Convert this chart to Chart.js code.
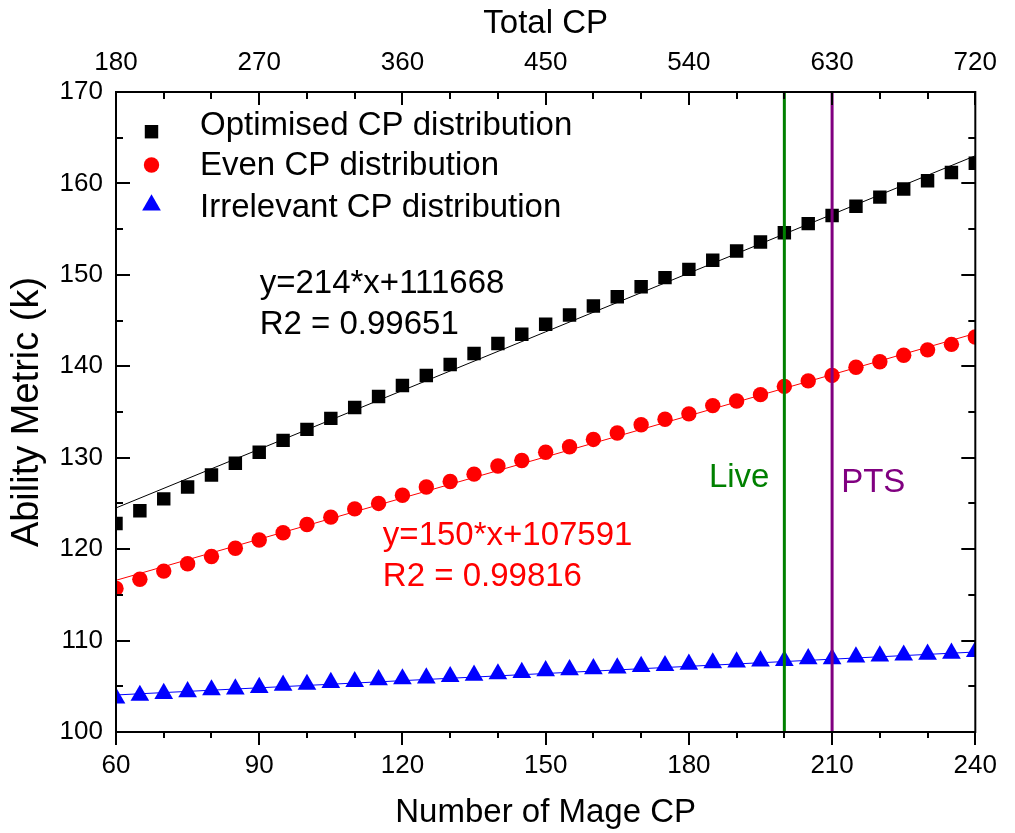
<!DOCTYPE html>
<html>
<head>
<meta charset="utf-8">
<script src="https://cdn.jsdelivr.net/npm/chart.js@4/dist/chart.umd.min.js"></script>
<style>
html,body{margin:0;padding:0;background:#fff;}
#wrap{width:1015px;height:833px;}
</style>
</head>
<body>
<div id="wrap"><canvas id="c" width="1015" height="833"></canvas></div>
<script>
// ---------- data ----------
const mageCP = [60,65,70,75,80,85,90,95,100,105,110,115,120,125,130,135,140,145,150,155,160,165,170,175,180,185,190,195,200,205,210,215,220,225,230,235,240];
const optimised = [122.8,124.2,125.5,126.8,128.1,129.4,130.6,131.9,133.1,134.3,135.5,136.7,137.9,139.0,140.2,141.4,142.5,143.5,144.6,145.6,146.6,147.6,148.7,149.7,150.6,151.6,152.6,153.6,154.6,155.6,156.5,157.5,158.5,159.4,160.3,161.2,162.2];
const even = [115.7,116.7,117.6,118.4,119.2,120.1,121.0,121.8,122.7,123.5,124.4,125.0,125.9,126.8,127.4,128.2,129.1,129.7,130.6,131.2,132.0,132.7,133.6,134.2,134.8,135.7,136.2,136.9,137.8,138.4,139.0,139.9,140.5,141.2,141.8,142.4,143.2];
const irrelevant = [103.7,104.0,104.2,104.4,104.6,104.7,104.85,105.1,105.2,105.4,105.5,105.7,105.8,105.9,106.05,106.2,106.35,106.5,106.7,106.8,106.9,107.0,107.15,107.25,107.4,107.55,107.65,107.75,107.8,108.0,108.0,108.2,108.3,108.4,108.5,108.6,108.8];
const fitX = [60, 240];
const optimisedFit = [124.508, 163.028];
const evenFit = [116.591, 143.591];
const irrelevantFit = [104.05, 108.75];
const liveCP = 200;
const ptsCP = 210;
const xTickLabels = [60,90,120,150,180,210,240];
const topTickLabels = [180,270,360,450,540,630,720];
const yTickLabels = [100,110,120,130,140,150,160,170];
const seriesNames = ['Optimised CP distribution','Even CP distribution','Irrelevant CP distribution'];

// ---------- helpers ----------
const FONT = "'Liberation Sans', Arial, sans-serif";
const pts = (xs, ys) => xs.map((v, i) => ({x: v, y: ys[i]}));
const vline = (v) => [{x: v, y: yTickLabels[0]}, {x: v, y: yTickLabels[yTickLabels.length - 1]}];
const setTicks = (arr) => (s) => { s.ticks = arr.map(v => ({value: v})); };

const markerSets = [
  {label: seriesNames[0], data: pts(mageCP, optimised), color: '#000000', style: 'rect', r: 9.5},
  {label: seriesNames[1], data: pts(mageCP, even), color: '#ff0000', style: 'circle', r: 7.7},
  {label: seriesNames[2], data: pts(mageCP, irrelevant), color: '#0000ff', style: 'triangle', r: 10.8}
];

const datasets = [
  {label: 'Live', data: vline(liveCP), showLine: true, borderColor: '#008000', borderWidth: 3, pointRadius: 0, order: 0, clip: 0},
  {label: 'PTS', data: vline(ptsCP), showLine: true, borderColor: '#800080', borderWidth: 3, pointRadius: 0, order: 0, clip: 0},
  {label: 'fit1', data: pts(fitX, optimisedFit), showLine: true, borderColor: '#000000', borderWidth: 1, pointRadius: 0, order: 1, clip: 0},
  {label: 'fit2', data: pts(fitX, evenFit), showLine: true, borderColor: '#ff0000', borderWidth: 1, pointRadius: 0, order: 1, clip: 0},
  {label: 'fit3', data: pts(fitX, irrelevantFit), showLine: true, borderColor: '#0000ff', borderWidth: 1, pointRadius: 0, order: 1, clip: 0}
];
markerSets.forEach(m => datasets.push({
  label: m.label, data: m.data, showLine: false,
  pointStyle: m.style, pointRadius: m.r, pointBackgroundColor: m.color,
  pointBorderWidth: 0, backgroundColor: m.color, borderColor: m.color, order: 2, clip: 0
}));

// text annotations, anchored in data coordinates (left / baseline)
const notes = [
  {text: 'y=214*x+111668', x: 90.1, y: 148.0, color: '#000000'},
  {text: 'R2 = 0.99651', x: 90.1, y: 143.5, color: '#000000'},
  {text: 'y=150*x+107591', x: 115.9, y: 120.4, color: '#ff0000'},
  {text: 'R2 = 0.99816', x: 115.9, y: 116.0, color: '#ff0000'},
  {text: 'Live', x: 184.2, y: 126.8, color: '#008000'},
  {text: 'PTS', x: 211.9, y: 126.3, color: '#800080'}
];

const decor = {
  id: 'decor',
  afterDraw(chart) {
    const {ctx, chartArea: a, scales} = chart;
    const x = scales.x, y = scales.y;
    ctx.save();
    ctx.strokeStyle = '#000';
    ctx.lineWidth = 2;
    ctx.strokeRect(a.left, a.top, a.right - a.left, a.bottom - a.top);
    ctx.beginPath();
    for (let v = x.min; v <= x.max + 1e-6; v += 10) {
      const px = Math.round(x.getPixelForValue(v));
      const major = Math.abs((v - x.min) % 30) < 1e-6;
      ctx.moveTo(px, a.bottom); ctx.lineTo(px, a.bottom + (major ? 13 : 6));
      ctx.moveTo(px, a.top); ctx.lineTo(px, a.top + (major ? 13 : 7));
    }
    for (let v = y.min; v <= y.max + 1e-6; v += 5) {
      const py = Math.round(y.getPixelForValue(v));
      const major = Math.abs((v - y.min) % 10) < 1e-6;
      const L = major ? 14 : 7;
      ctx.moveTo(a.left, py); ctx.lineTo(a.left + L, py);
      ctx.moveTo(a.right, py); ctx.lineTo(a.right - L, py);
    }
    ctx.stroke();

    // legend
    ctx.font = '33px ' + FONT;
    ctx.textBaseline = 'alphabetic';
    ctx.textAlign = 'left';
    const rows = [131.7, 165, 205];
    const baselines = [135, 175, 216.7];
    markerSets.forEach((m, i) => {
      ctx.fillStyle = m.color;
      Chart.helpers.drawPoint(ctx, {pointStyle: m.style, radius: m.r, borderWidth: 0, rotation: 0}, a.left + 35.5, rows[i]);
      ctx.fillStyle = '#000';
      ctx.fillText(m.label, a.left + 84, baselines[i]);
    });

    // annotations
    notes.forEach(n => {
      ctx.fillStyle = n.color;
      ctx.fillText(n.text, x.getPixelForValue(n.x), y.getPixelForValue(n.y));
    });
    ctx.restore();
  }
};

const tickFont = {family: FONT, size: 26};
const titleFont = {family: FONT, size: 33};

new Chart(document.getElementById('c'), {
  type: 'scatter',
  data: {datasets},
  options: {
    responsive: false,
    animation: false,
    devicePixelRatio: 1,
    layout: {padding: {left: 0, right: 39, top: 0, bottom: 0}},
    plugins: {legend: {display: false}, tooltip: {enabled: false}},
    scales: {
      x: {
        type: 'linear', position: 'bottom', min: 60, max: 240,
        afterBuildTicks: setTicks(xTickLabels),
        afterFit: s => { s.height = 101; },
        grid: {display: false, drawTicks: false}, border: {display: false},
        ticks: {font: tickFont, color: '#000', padding: 18, maxRotation: 0, autoSkip: false},
        title: {display: true, text: 'Number of Mage CP', font: titleFont, color: '#000', padding: {top: 0, bottom: 0}}
      },
      x2: {
        type: 'linear', position: 'top', min: 180, max: 720,
        afterBuildTicks: setTicks(topTickLabels),
        afterFit: s => { s.height = 92; },
        grid: {display: false, drawTicks: false}, border: {display: false},
        ticks: {font: tickFont, color: '#000', padding: 14, maxRotation: 0, autoSkip: false},
        title: {display: true, text: 'Total CP', font: titleFont, color: '#000', padding: {top: 4, bottom: 0}}
      },
      y: {
        type: 'linear', position: 'left', min: 100, max: 170,
        afterBuildTicks: setTicks(yTickLabels),
        afterFit: s => { s.width = 116; },
        grid: {display: false, drawTicks: false}, border: {display: false},
        ticks: {font: tickFont, color: '#000', padding: 13, autoSkip: false},
        title: {display: true, text: 'Ability Metric (k)', font: {family: FONT, size: 38}, color: '#000', padding: {top: 5, bottom: 0}}
      }
    }
  },
  plugins: [decor]
});
</script>
</body>
</html>
